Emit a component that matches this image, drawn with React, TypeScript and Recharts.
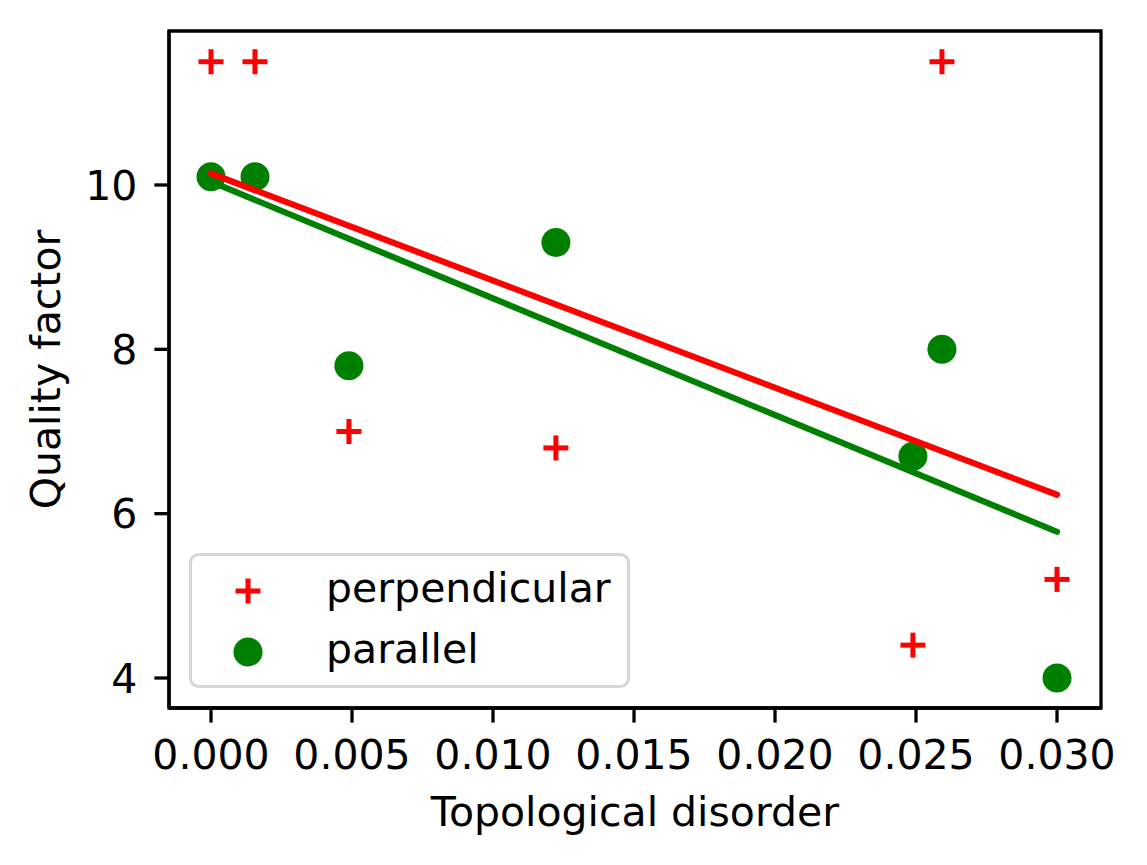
import {
  ScatterChart,
  Scatter,
  XAxis,
  YAxis,
  Legend,
  Label,
  ReferenceArea,
} from "recharts";

// values
const disorder = [0, 0.00156, 0.00489, 0.01223, 0.02489, 0.02592, 0.03];
const perpendicularQ = [11.5, 11.5, 7.0, 6.8, 4.4, 11.5, 5.2];
const parallelQ = [10.1, 10.1, 7.8, 9.3, 6.7, 8.0, 4.0];

// fitted lines (end points)
const fitX = [0, 0.03];
const perpendicularFit = [10.14, 6.23];
const parallelFit = [10.04, 5.78];

const xTicks = [0, 0.005, 0.01, 0.015, 0.02, 0.025, 0.03];
const yTicks = [4, 6, 8, 10];
const xDomain = [-0.00149, 0.03156];
const yDomain = [3.635, 11.874];

const seriesNames = ["perpendicular", "parallel"];

const RED = "#ff0000";
const GREEN = "#008000";
const FONT = "DejaVu Sans";
const FONT_SIZE = 41;

const toPoints = (xs: number[], ys: number[]) =>
  xs.map((x, i) => ({ x, y: ys[i] }));

const perpData = toPoints(disorder, perpendicularQ);
const paraData = toPoints(disorder, parallelQ);
const perpFitData = toPoints(fitX, perpendicularFit);
const paraFitData = toPoints(fitX, parallelFit);

const Plus = ({ cx, cy }: any) => (
  <g>
    <line x1={cx - 12.5} x2={cx + 12.5} y1={cy} y2={cy} stroke={RED} strokeWidth={5} />
    <line x1={cx} x2={cx} y1={cy - 12.5} y2={cy + 12.5} stroke={RED} strokeWidth={5} />
  </g>
);

const Dot = ({ cx, cy }: any) => <circle cx={cx} cy={cy} r={14.5} fill={GREEN} />;

const Nothing = () => <g />;

// fit line drawn through the points that recharts has already scaled
const fitLine = (color: string) => (props: any) => {
  const pts = (props.points || []) as { x: number; y: number }[];
  return (
    <polyline
      points={pts.map((p) => `${p.x},${p.y}`).join(" ")}
      fill="none"
      stroke={color}
      strokeWidth={6.2}
      strokeLinecap="round"
    />
  );
};

const LegendBox = () => (
  <svg width={441} height={135} style={{ display: "block" }}>
    <rect
      x={1.5}
      y={1.5}
      width={438}
      height={132}
      rx={8}
      fill="rgba(255,255,255,0.8)"
      stroke="#d6d6d6"
      strokeWidth={3}
    />
    <Plus cx={59} cy={38} />
    <text x={137} y={49} fontFamily={FONT} fontSize={FONT_SIZE} fill="#000">
      {seriesNames[0]}
    </text>
    <Dot cx={59} cy={99} />
    <text x={137} y={110} fontFamily={FONT} fontSize={FONT_SIZE} fill="#000">
      {seriesNames[1]}
    </text>
  </svg>
);

const YLabel = ({ viewBox }: any) => {
  const cy = viewBox.y + viewBox.height / 2;
  return (
    <text
      x={60}
      y={cy}
      transform={`rotate(-90, 60, ${cy})`}
      textAnchor="middle"
      fontFamily={FONT}
      fontSize={FONT_SIZE}
      fill="#000"
    >
      Quality factor
    </text>
  );
};

const tickStyle = { fill: "#000", fontFamily: FONT, fontSize: FONT_SIZE };
const lineStyle = { stroke: "#000", strokeWidth: 3.3 };

export default function App() {
  return (
    <div style={{ position: "absolute", left: 0, top: 0, background: "#fff" }}>
      <ScatterChart
        width={1147}
        height={865}
        margin={{ top: 31, right: 46, bottom: 0, left: 0 }}
      >
        <XAxis
          type="number"
          dataKey="x"
          domain={xDomain}
          ticks={xTicks}
          tickFormatter={(v: number) => v.toFixed(3)}
          allowDataOverflow
          height={157}
          tickSize={14.6}
          tickMargin={17}
          tick={tickStyle}
          axisLine={lineStyle}
          tickLine={lineStyle}
        >
          <Label
            value="Topological disorder"
            position="insideBottom"
            offset={39}
            style={{ fill: "#000", fontFamily: FONT, fontSize: FONT_SIZE }}
          />
        </XAxis>
        <YAxis
          type="number"
          dataKey="y"
          domain={yDomain}
          ticks={yTicks}
          allowDataOverflow
          width={169}
          tickSize={14.6}
          tickMargin={17}
          tick={tickStyle}
          axisLine={lineStyle}
          tickLine={lineStyle}
        >
          <Label content={YLabel} />
        </YAxis>
        <ReferenceArea
          x1={xDomain[0]}
          x2={xDomain[1]}
          y1={yDomain[0]}
          y2={yDomain[1]}
          fill="none"
          fillOpacity={0}
          stroke="#000"
          strokeWidth={3.3}
          ifOverflow="visible"
        />
        <Scatter
          name={seriesNames[0]}
          data={perpData}
          shape={Plus}
          isAnimationActive={false}
        />
        <Scatter
          name={seriesNames[1]}
          data={paraData}
          shape={Dot}
          isAnimationActive={false}
        />
        <Scatter
          data={perpFitData}
          line={fitLine(RED)}
          shape={Nothing}
          legendType="none"
          isAnimationActive={false}
        />
        <Scatter
          data={paraFitData}
          line={fitLine(GREEN)}
          shape={Nothing}
          legendType="none"
          isAnimationActive={false}
        />
        <Legend
          layout="vertical"
          align="center"
          verticalAlign="middle"
          content={LegendBox}
          wrapperStyle={{
            position: "absolute",
            left: 189,
            top: 553,
            width: 441,
            height: 135,
          }}
        />
      </ScatterChart>
    </div>
  );
}
